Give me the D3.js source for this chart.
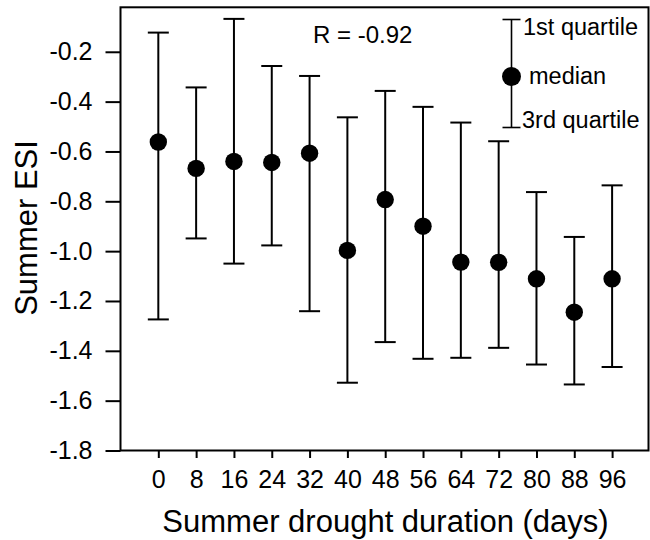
<!DOCTYPE html>
<html>
<head>
<meta charset="utf-8">
<script src="https://cdn.jsdelivr.net/npm/d3@7"></script>
<style>
  html, body { margin: 0; padding: 0; background: #fff; }
  svg { display: block; }
  text { font-family: "Liberation Sans", Arial, sans-serif; fill: #000; }
</style>
</head>
<body>
<svg id="chart" width="650" height="540"></svg>
<script>
// Data
const durations = [0, 8, 16, 24, 32, 40, 48, 56, 64, 72, 80, 88, 96];
const medians   = [-0.562, -0.668, -0.640, -0.644, -0.607, -0.997, -0.793, -0.900, -1.044, -1.045, -1.111, -1.245, -1.111];
const q1        = [-0.123, -0.343, -0.068, -0.257, -0.297, -0.463, -0.357, -0.421, -0.484, -0.559, -0.763, -0.943, -0.736];
const q3        = [-1.274, -0.949, -1.050, -0.977, -1.241, -1.528, -1.365, -1.432, -1.428, -1.388, -1.455, -1.535, -1.465];
const yTicks    = [-0.2, -0.4, -0.6, -0.8, -1.0, -1.2, -1.4, -1.6, -1.8];
const rLabel = "R = -0.92";
const legendLabels = ["1st quartile", "median", "3rd quartile"];

const svg = d3.select("#chart");
const pLeft = 120.5, pRight = 648.5, pTop = 7.3, pBottom = 450.5;

const x = d3.scaleLinear().domain([-8, 103.7]).range([pLeft, pRight]);
const y = d3.scaleLinear().domain([-1.8, -0.0215]).range([pBottom, pTop]);

// Y axis
const yAxis = svg.append("g")
  .attr("transform", `translate(${pLeft},0)`)
  .call(d3.axisLeft(y).tickValues(yTicks).tickFormat(d => d3.format(".1f")(d).replace("\u2212", "-")).tickSize(15).tickPadding(13));
yAxis.select(".domain").remove();
yAxis.selectAll("line").attr("stroke", "#000").attr("stroke-width", 2);
yAxis.selectAll("text").attr("font-size", 25).attr("font-family", "Liberation Sans, Arial, sans-serif");

// X axis
const xAxis = svg.append("g")
  .attr("transform", `translate(0,${pBottom})`)
  .call(d3.axisBottom(x).tickValues(durations).tickFormat(d3.format("d")).tickSize(7.5).tickPadding(12));
xAxis.select(".domain").remove();
xAxis.selectAll("line").attr("stroke", "#000").attr("stroke-width", 2);
xAxis.selectAll("text").attr("font-size", 25).attr("font-family", "Liberation Sans, Arial, sans-serif");

// Frame
svg.append("rect")
  .attr("x", pLeft).attr("y", pTop)
  .attr("width", pRight - pLeft).attr("height", pBottom - pTop)
  .attr("fill", "none").attr("stroke", "#000").attr("stroke-width", 2);

// Error bars
const data = durations.map((d, i) => ({d, m: medians[i], hi: q1[i], lo: q3[i]}));
const capW = 10.5;
const g = svg.append("g");
g.selectAll("line.stem").data(data).join("line")
  .attr("class", "stem")
  .attr("x1", d => x(d.d)).attr("x2", d => x(d.d))
  .attr("y1", d => y(d.hi)).attr("y2", d => y(d.lo))
  .attr("stroke", "#000").attr("stroke-width", 2);
g.selectAll("line.capTop").data(data).join("line")
  .attr("class", "capTop")
  .attr("x1", d => x(d.d) - capW).attr("x2", d => x(d.d) + capW)
  .attr("y1", d => y(d.hi)).attr("y2", d => y(d.hi))
  .attr("stroke", "#000").attr("stroke-width", 2);
g.selectAll("line.capBot").data(data).join("line")
  .attr("class", "capBot")
  .attr("x1", d => x(d.d) - capW).attr("x2", d => x(d.d) + capW)
  .attr("y1", d => y(d.lo)).attr("y2", d => y(d.lo))
  .attr("stroke", "#000").attr("stroke-width", 2);
g.selectAll("circle").data(data).join("circle")
  .attr("cx", d => x(d.d)).attr("cy", d => y(d.m)).attr("r", 8.7)
  .attr("fill", "#000");

// R label
svg.append("text").attr("x", 313).attr("y", 43).attr("font-size", 24).text(rLabel);

// Legend
const lg = svg.append("g");
const lx = 511.5, lTop = 19.5, lBot = 127.5, lMid = 76.5;
lg.append("line").attr("x1", lx).attr("x2", lx).attr("y1", lTop).attr("y2", lBot).attr("stroke", "#000").attr("stroke-width", 1.6);
lg.append("line").attr("x1", lx - 9).attr("x2", lx + 9).attr("y1", lTop).attr("y2", lTop).attr("stroke", "#000").attr("stroke-width", 1.6);
lg.append("line").attr("x1", lx - 9).attr("x2", lx + 9).attr("y1", lBot).attr("y2", lBot).attr("stroke", "#000").attr("stroke-width", 1.6);
lg.append("circle").attr("cx", lx).attr("cy", lMid).attr("r", 9.5).attr("fill", "#000");
lg.append("text").attr("x", 523).attr("y", 35).attr("font-size", 23.5).text(legendLabels[0]);
lg.append("text").attr("x", 529).attr("y", 84).attr("font-size", 23.5).text(legendLabels[1]);
lg.append("text").attr("x", 522).attr("y", 128).attr("font-size", 23.5).text(legendLabels[2]);

// Axis titles
svg.append("text").attr("x", 385.5).attr("y", 532).attr("text-anchor", "middle")
  .attr("font-size", 31).text("Summer drought duration (days)");
svg.append("text").attr("transform", "translate(37,228) rotate(-90)").attr("text-anchor", "middle")
  .attr("font-size", 31).text("Summer ESI");
</script>
</body>
</html>
